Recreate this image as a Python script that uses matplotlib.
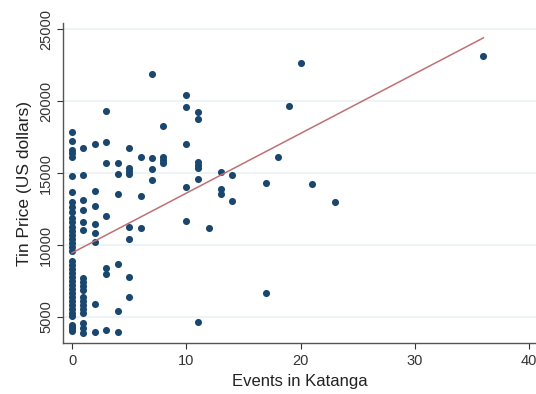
import matplotlib.pyplot as plt
import numpy as np

plt.rcParams['font.family'] = ['Liberation Sans', 'DejaVu Sans']

# events in Katanga (x) and tin price in US dollars (y)
events = (
    [0] * 38 + [1] * 18 + [2] * 8 + [3] * 7 + [4] * 6 + [5] * 8 + [6] * 3
    + [7] * 4 + [8] * 4 + [10] * 5 + [11] * 7 + [12] + [13] * 3 + [14] * 2
    + [17] * 2 + [18, 19, 20, 21, 23, 36]
)
price = [
    # 0
    17870, 17220, 16600, 16370, 16090, 14810, 13700, 13010, 12660, 12270,
    11900, 11620, 11270, 10970, 10690, 10420, 10140, 9860, 9580,
    8890, 8610, 8330, 8060, 7780, 7500, 7220, 6940, 6670, 6390,
    6110, 5830, 5560, 5280, 5070, 4330, 4030, 4450, 4150,
    # 1
    16760, 14860, 13130, 12430, 11620, 11040, 7710, 7430, 7150, 6880,
    6390, 6110, 5830, 5560, 5280, 4560, 4220, 3920,
    # 2
    16990, 13750, 12730, 11440, 10810, 10230, 5880, 3950,
    # 3
    19330, 17170, 15720, 12010, 8380, 7990, 4100,
    # 4
    15720, 14930, 13520, 8660, 5440, 3980,
    # 5
    16720, 15330, 15140, 14930, 11230, 10420, 7760, 6420,
    # 6
    16130, 13400, 11160,
    # 7
    21880, 16020, 15260, 14510,
    # 8
    18260, 16130, 15900, 15670,
    # 10
    20420, 19600, 17010, 14010, 11670,
    # 11
    19260, 18730, 15790, 15560, 15330, 14560, 4670,
    # 12
    11200,
    # 13
    15090, 13890, 13540,
    # 14
    14860, 13080,
    # 17
    14330, 6690,
    # 18 .. 36
    16130, 19650, 22620, 14220, 12970, 23150,
]

# linear fit
fit_x = [0, 36]
fit_intercept = 9450
fit_slope = 415

x_ticks = [0, 10, 20, 30, 40]
y_ticks = [5000, 10000, 15000, 20000, 25000]

fig = plt.figure(figsize=(5.36, 3.94), dpi=100)
ax = fig.add_axes([0.1175, 0.1294, 0.8825, 0.8122])

ax.set_xlim(-0.79, 40.6)
ax.set_ylim(3190, 25420)

for v in y_ticks:
    ax.axhline(v, color='#eaf2f3', linewidth=1.2, zorder=0)

ax.scatter(events, price, s=26, color='#1a476f', linewidths=0, zorder=3)
fx = np.array(fit_x)
ax.plot(fx, fit_intercept + fit_slope * fx, color='#bf7075', linewidth=1.1, zorder=4)

ax.set_xticks(x_ticks)
ax.set_yticks(y_ticks)
ax.set_yticklabels([str(v) for v in y_ticks], rotation=90, va='center')
ax.tick_params(axis='both', labelsize=10.5, colors='#333333', length=4, width=0.8,
               direction='out', pad=3)
ax.tick_params(axis='x', pad=4)

for s in ['top', 'right']:
    ax.spines[s].set_visible(False)
for s in ['left', 'bottom']:
    ax.spines[s].set_color('#555555')
    ax.spines[s].set_linewidth(1.0)

ax.set_xlabel('Events in Katanga', fontsize=12, color='#222222', labelpad=4)
ax.set_ylabel('Tin Price (US dollars)', fontsize=12.5, color='#222222', labelpad=5)

fig.savefig('out.png', dpi=100, facecolor='white')
